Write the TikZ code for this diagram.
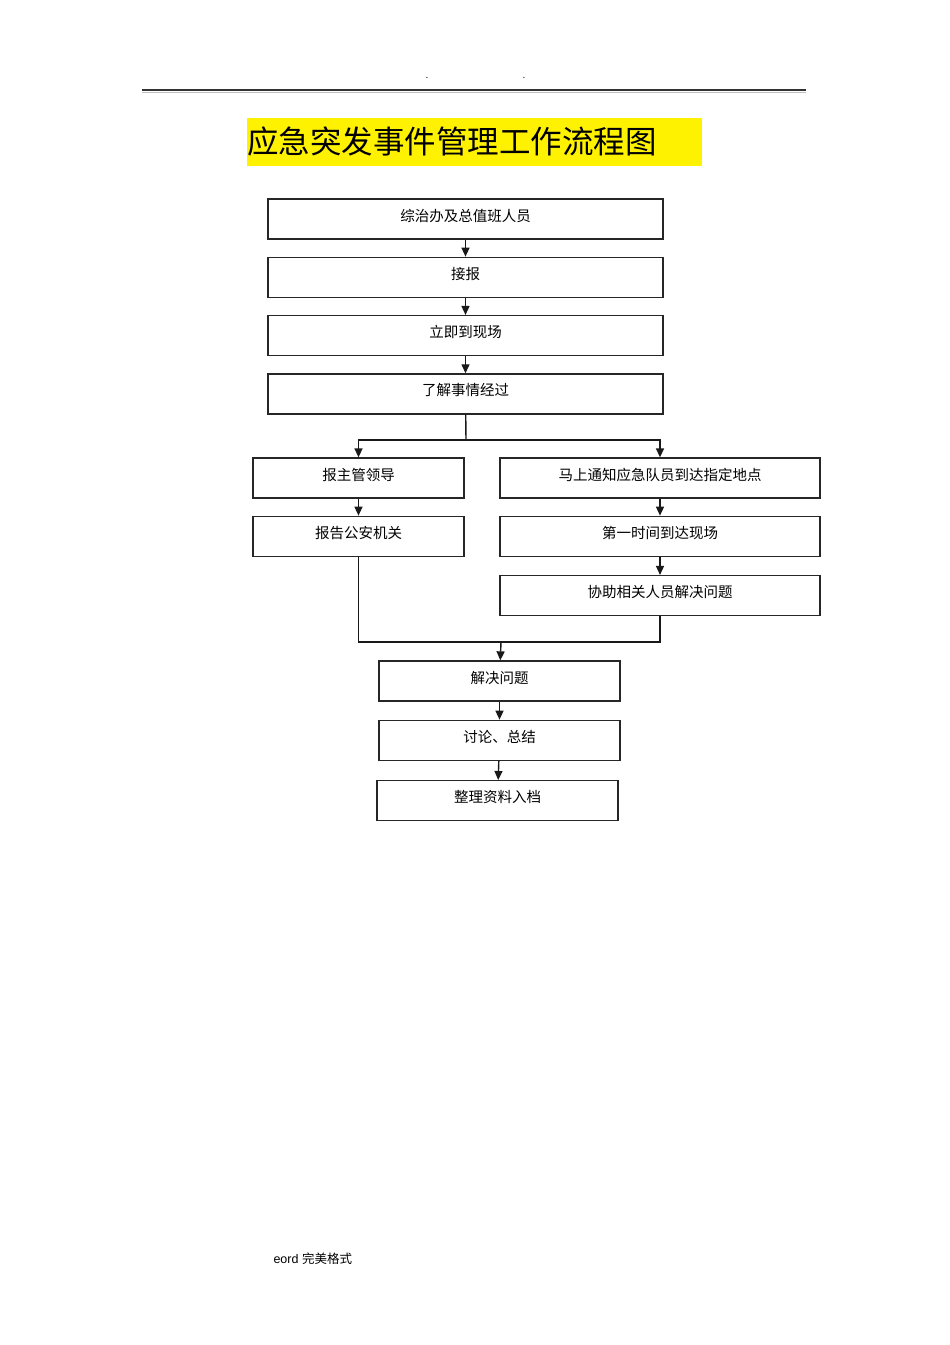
\documentclass[tikz,border=0pt]{standalone}
\usepackage{fontspec}
\setmainfont{Liberation Sans}
\newfontfamily\cjk{Noto Sans CJK SC}
\usetikzlibrary{positioning, arrows.meta}

\begin{document}
\begin{tikzpicture}[
        x=1pt, y=-1pt,
        node distance=17pt and 20pt,
        stepbox/.style={rectangle, draw=black!85, line width=1.3pt, minimum width=395pt, minimum height=40pt, inner sep=0pt, text height=10pt, text depth=6pt, align=center, font=\cjk\fontsize{14.5}{16}\selectfont},
        sidebox/.style={stepbox, minimum width=211pt},
        wingbox/.style={stepbox, minimum width=320pt},
        endbox/.style={stepbox, minimum width=241pt},
        titlebox/.style={rectangle, fill=yellow, minimum height=48pt, text width=455pt, inner xsep=0pt, inner ysep=0pt, align=left, font=\cjk\fontsize{31.5}{34}\selectfont},
        arr/.style={-{Triangle[length=9pt, width=8pt]}, line width=1.4pt, black!90},
        link/.style={line width=1.4pt, black!90},
    ]
        \useasboundingbox (0,0) rectangle (950,1345);

        % Page header
        \draw[line width=1.6pt, black!80] (142,90) -- (806,90);
        \draw[line width=0.6pt, black!25] (142,92) -- (806,92);
        \node[font=\fontsize{10}{10}\selectfont] (dotl) at (427,78) {.};
        \node[font=\fontsize{10}{10}\selectfont] (dotr) at (524,78) {.};

        % Title
        \node[titlebox, anchor=west] (title) at (247,142) {应急突发事件管理工作流程图};

        % Main chain
        \node[stepbox] (duty) at (465.5,219) {综治办及总值班人员};
        \node[stepbox, below=of duty] (recv) {接报};
        \node[stepbox, below=of recv] (site) {立即到现场};
        \node[stepbox, below=of site] (learn) {了解事情经过};

        % Left branch
        \node[sidebox] (lead) at (358.5,478) {报主管领导};
        \node[sidebox, below=of lead] (police) {报告公安机关};

        % Right branch
        \node[wingbox] (notify) at (660,478) {马上通知应急队员到达指定地点};
        \node[wingbox, below=of notify] (arrive) {第一时间到达现场};
        \node[wingbox, below=18pt of arrive] (assist) {协助相关人员解决问题};

        % Final chain
        \node[endbox] (solve) at (499.5,681) {解决问题};
        \node[endbox, below=18pt of solve] (discuss) {讨论、总结};
        \node[endbox, below=19pt of discuss, xshift=-2pt] (archive) {整理资料入档};

        % Footer
        \node[anchor=west, font=\fontsize{12.5}{14}\selectfont] (foot) at (270,1259) {eord {\cjk 完美格式}};

        \coordinate (split) at (466,440);
        \coordinate (merge) at (501,642);

        \draw[arr] (duty) -- (recv);
        \draw[arr] (recv) -- (site);
        \draw[arr] (site) -- (learn);

        % Split into two branches
        \draw[link] (learn) -- (split);
        \draw[arr] (split) -| (lead);
        \draw[arr] (split) -| (notify);

        \draw[arr] (lead) -- (police);
        \draw[arr] (notify) -- (arrive);
        \draw[arr] (arrive) -- (assist);

        % Merge back
        \draw[link] (police) |- (merge);
        \draw[link] (assist) |- (merge);
        \draw[arr] (merge) -- (solve);

        \draw[arr] (solve) -- (discuss);
        \draw[arr] (discuss) -- (archive);
    \end{tikzpicture}
\end{document}
